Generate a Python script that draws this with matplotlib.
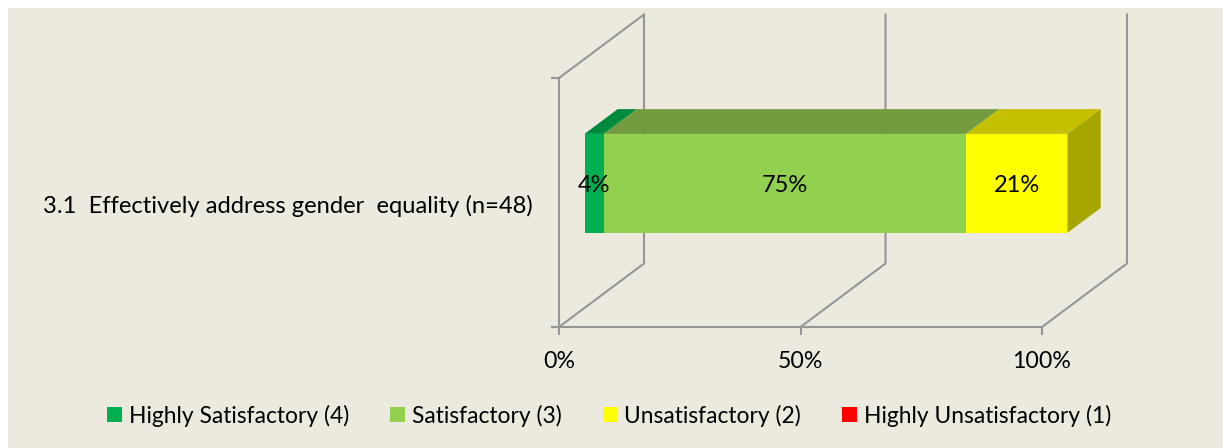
#!/usr/bin/env python3
import matplotlib
matplotlib.use("Agg")
import matplotlib.pyplot as plt
from matplotlib.patches import Polygon, Rectangle

plt.rcParams["font.family"] = ["Lato", "DejaVu Sans"]

category = "3.1  Effectively address gender  equality (n=48)"
series = ["Highly Satisfactory (4)", "Satisfactory (3)", "Unsatisfactory (2)", "Highly Unsatisfactory (1)"]
values = [4, 75, 21, 0]
labels = ["4%", "75%", "21%", ""]
front_colors = ["#00B050", "#92D050", "#FFFF00", "#FF0000"]
top_colors = ["#008A3E", "#739C3E", "#C4C000", "#C00000"]
side_color = "#A6A600"
ticks = [0, 50, 100]
tick_labels = ["0%", "50%", "100%"]

W, H = 1223, 448
BG = "#ECE9DF"
GRID = "#969696"
FS = 17

fig = plt.figure(figsize=(W / 100, H / 100), dpi=100, facecolor="white")
fig.patches.append(Rectangle((8 / W, 0), 1 - 8 / W, 1 - 8 / H, transform=fig.transFigure,
                             facecolor=BG, edgecolor="none", zorder=-5))

# front floor edge of the fake 3D box is the real axes
ax = fig.add_axes([559 / W, 1 - 327 / H, 483 / W, 249 / H])
ax.patch.set_visible(False)
ax.set_xlim(0, 100)
ax.set_ylim(0, 1)

# depth of the box in data units
dx = 85 / 4.83
dy = 63.5 / 249


def shift(x, y, d):
    return x + d * dx, y + d * dy


# --- walls ---
for t in ticks:
    xs = [t, t + dx, t + dx]
    ys = [0, dy, 1 + dy]
    ax.plot(xs, ys, color=GRID, lw=1.5, clip_on=False, zorder=1, solid_joinstyle="miter")
ax.plot([0, dx], [1, 1 + dy], color=GRID, lw=1.5, clip_on=False, zorder=1)

for s in ["top", "right"]:
    ax.spines[s].set_visible(False)
for s in ["left", "bottom"]:
    ax.spines[s].set_color(GRID)
    ax.spines[s].set_linewidth(1.5)

ax.set_xticks(ticks)
ax.set_xticklabels(tick_labels, fontsize=FS - 0.3, color="black")
ax.set_yticks([0, 1])
ax.set_yticklabels([])
ax.tick_params(axis="both", color=GRID, width=1.5, length=5.5)
ax.tick_params(axis="x", pad=12)

# --- stacked 3D bar ---
y0, y1 = 0.302, 0.699
d0, d_bar = 0.3, 0.39
left = 0
for v, lab, fc, tc in zip(values, labels, front_colors, top_colors):
    if v == 0:
        continue
    x0f, yb = shift(left, y0, d0)
    x1f, yt = shift(left + v, y1, d0)
    ax.barh(yb, v, left=x0f, height=yt - yb, align="edge", color=fc, clip_on=False, zorder=3)
    bl = shift(left, y1, d0)
    br = shift(left + v, y1, d0)
    tr = shift(left + v, y1, d0 + d_bar)
    tl = shift(left, y1, d0 + d_bar)
    ax.add_patch(Polygon([bl, br, tr, tl], facecolor=tc, edgecolor="none", clip_on=False, zorder=3))
    ax.text((x0f + x1f) / 2, (yb + yt) / 2 - 0.008, lab, ha="center", va="center",
            fontsize=FS, color="black", zorder=5, clip_on=False)
    left += v

end = sum(values)
ax.add_patch(Polygon([shift(end, y0, d0), shift(end, y1, d0),
                      shift(end, y1, d0 + d_bar), shift(end, y0, d0 + d_bar)],
                     facecolor=side_color, edgecolor="none", clip_on=False, zorder=3))

# category label, right aligned left of the axis
ax.text((533 - 559) / 4.83, 0.486, category, ha="right", va="center", fontsize=FS + 0.15, color="black", clip_on=False)

# --- legend ---
handles = [Rectangle((0, 0), 1, 1, facecolor=c, edgecolor="none") for c in front_colors]
fig.legend(handles, series, loc="center", bbox_to_anchor=(609 / W, 1 - 415.5 / H), ncol=4,
           frameon=False, fontsize=16.4, handlelength=0.66, handleheight=0.66,
           handletextpad=0.3, columnspacing=1.8, borderpad=0, borderaxespad=0)

fig.savefig("out.png", dpi=100, facecolor="white")
